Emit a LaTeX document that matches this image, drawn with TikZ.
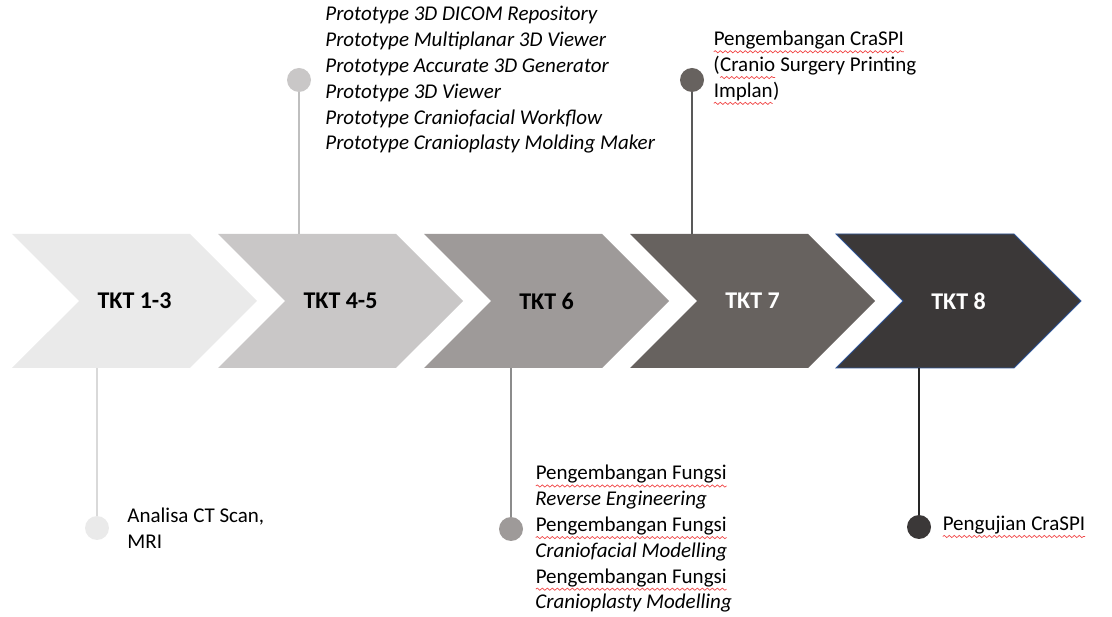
\documentclass[tikz,border=0pt]{standalone}
\usepackage{fontspec}
\setmainfont{Carlito}
\usetikzlibrary{shapes.symbols, positioning, decorations.pathmorphing}

\definecolor{tktA}{HTML}{EAEAEA}
\definecolor{tktB}{HTML}{C9C7C7}
\definecolor{tktC}{HTML}{9E9A99}
\definecolor{tktD}{HTML}{67625F}
\definecolor{tktE}{HTML}{3B3838}
\definecolor{tktEdge}{HTML}{2F5597}
\definecolor{lineA}{HTML}{D9D9D9}
\definecolor{lineB}{HTML}{BFBFBF}
\definecolor{lineC}{HTML}{8C8C8C}
\definecolor{lineD}{HTML}{595959}
\definecolor{lineE}{HTML}{262626}
\definecolor{spell}{HTML}{F04848}

% red spell-check wave under a word
\newcommand\redwave[1]{\tikz[baseline=(w.base)]{\node[inner sep=0pt, outer sep=0pt] (w) {#1};
    \draw[spell, line width=0.7pt, decorate, decoration={snake, amplitude=1.1pt, segment length=5pt}] ([yshift=-6pt]w.base west) -- ([yshift=-6pt]w.base east);}}

\begin{document}
\begin{tikzpicture}[
    x=1pt, y=-1pt,
    chev/.style={signal, signal to=east, signal from=west, minimum width=245pt, minimum height=134pt, inner sep=0pt, font=\fontsize{24}{28}\selectfont\bfseries},
    dot/.style={circle, inner sep=0pt, minimum size=24pt},
    stem/.style={line width=1.5pt},
    note/.style={inner sep=0pt, align=left, font=\fontsize{21}{25.8}\selectfont}
]
    \useasboundingbox (0,0) rectangle (1112,617);

    % Stages
    \node[chev, fill=tktA] (tkt_a) at (134.5,301) {TKT 1-3};
    \node[chev, fill=tktB] (tkt_b) at (340.5,301) {TKT 4-5};
    \node[chev, fill=tktC] (tkt_c) at (546.5,301) {TKT 6};
    \node[chev, fill=tktD, text=white] (tkt_d) at (752.5,301) {TKT 7};
    \node[chev, fill=tktE, draw=tktEdge, line width=0.8pt, text=white] (tkt_e) at (958.5,301) {TKT 8};

    % Milestones above
    \node[dot, fill=tktB] (dot_b) at (299,80) {};
    \node[dot, fill=tktD] (dot_d) at (692,80) {};
    \draw[stem, lineB] (dot_b) -- (dot_b |- tkt_b.north);
    \draw[stem, lineD] (dot_d) -- (dot_d |- tkt_d.north);

    \node[note, right=14pt of dot_b, font=\fontsize{21}{25.8}\selectfont\itshape] (txt_b) {Prototype 3D DICOM Repository\\Prototype Multiplanar 3D Viewer\\Prototype Accurate 3D Generator\\Prototype 3D Viewer\\Prototype Craniofacial Workflow\\Prototype Cranioplasty Molding Maker};
    \node[note, right=9pt of dot_d, yshift=12pt] (txt_d) {\redwave{Pengembangan CraSPI}\\(\redwave{Cranio} Surgery Printing\\\redwave{Implan})};

    % Milestones below
    \node[dot, fill=tktA] (dot_a) at (97,528) {};
    \node[dot, fill=tktC] (dot_c) at (511,529) {};
    \node[dot, fill=tktE] (dot_e) at (919,527) {};
    \draw[stem, lineA] (dot_a) -- (dot_a |- tkt_a.south);
    \draw[stem, lineC] (dot_c) -- (dot_c |- tkt_c.south);
    \draw[stem, lineE] (dot_e) -- (dot_e |- tkt_e.south);

    \node[note, right=18pt of dot_a] (txt_a) {Analisa CT Scan,\\MRI};
    \node[note, right=12pt of dot_c, yshift=-10pt] (txt_c) {\redwave{Pengembangan Fungsi}\\\textit{Reverse Engineering}\\\redwave{Pengembangan Fungsi}\\\textit{Craniofacial Modelling}\\\redwave{Pengembangan Fungsi}\\\textit{Cranioplasty Modelling}};
    \node[note, right=11pt of dot_e] (txt_e) {\redwave{Pengujian CraSPI}};

\end{tikzpicture}
\end{document}
